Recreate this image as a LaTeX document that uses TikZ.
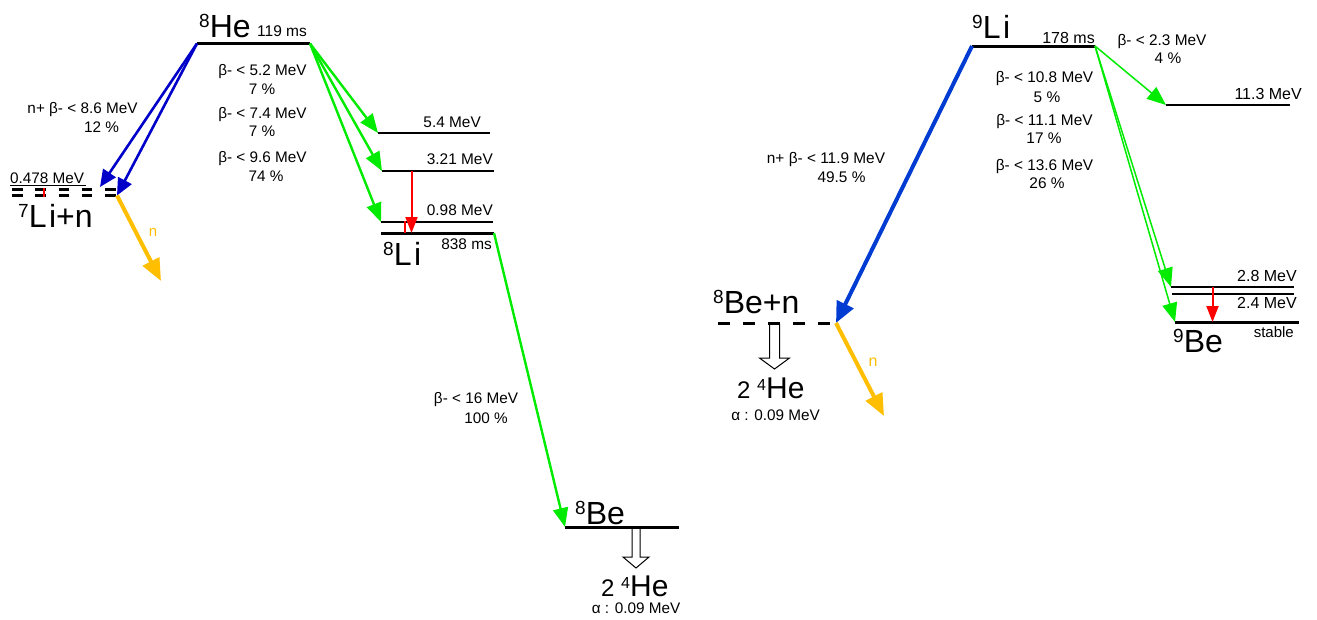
\documentclass[tikz,border=0pt]{standalone}
\usepackage{fontspec}
\setmainfont{Liberation Sans}
\usetikzlibrary{arrows.meta}
\definecolor{grn}{RGB}{0,235,0}
\definecolor{bluea}{RGB}{0,0,200}
\definecolor{blueb}{RGB}{0,60,210}
\definecolor{orng}{RGB}{255,190,0}
\definecolor{redd}{RGB}{255,0,0}
\newcommand\smf{\fontsize{15.3}{17}\selectfont}
\newcommand\smg{\fontsize{15.4}{17}\selectfont}
\newcommand\lvf{\fontsize{16}{18}\selectfont}
\newcommand\bigf{\fontsize{32}{34}\selectfont}
\newcommand\nuc[2]{\bigf\raisebox{9.3pt}{\fontsize{19}{19}\selectfont #1}#2}
\newcommand\Li{L\kern2.5pt i}
\newcommand\twohe{{\fontsize{24}{26}\selectfont 2 }\raisebox{8pt}{\fontsize{16}{16}\selectfont 4}{\fontsize{30}{32}\selectfont He}}
\tikzset{
  txt/.style={inner sep=0pt, anchor=base, text=black},
  lvl/.style={line width=2pt, line cap=butt},
  glvl/.style={line width=3pt, line cap=butt},
  dline/.style={line width=2.6pt, dash pattern=on 10.5pt off 12.8pt},
  gar/.style={grn, line width=2.4pt, -{Triangle[length=19pt,width=15pt]}},
  gthin/.style={grn, line width=1.5pt, -{Triangle[length=19pt,width=15pt]}},
  bar/.style={bluea, line width=2.6pt, -{Triangle[length=17pt,width=15pt]}},
  bbar/.style={blueb, line width=4pt, -{Triangle[length=21pt,width=18pt]}},
  oar/.style={orng, line width=4pt, -{Triangle[length=22pt,width=18pt]}},
  rar/.style={redd, line width=2pt, -{Triangle[length=16pt,width=12pt]}},
  hollow/.style={draw=black, line width=1pt, fill=white},
}
\begin{document}
\begin{tikzpicture}[x=1pt,y=-1pt]
\useasboundingbox (0,0) rectangle (1317,619);
% ---------- coordinates ----------
\coordinate (he8a) at (197,43.5);  \coordinate (he8b) at (310,43.5);
\coordinate (li8s1a) at (378,133); \coordinate (li8s1b) at (490,133);
\coordinate (li8s2a) at (382,171); \coordinate (li8s2b) at (494,171);
\coordinate (li8s3a) at (381,222); \coordinate (li8s3b) at (493,222);
\coordinate (li8a) at (381,233);   \coordinate (li8b) at (494,233);
\coordinate (li8r1) at (411.5,171); \coordinate (li8r2) at (411.5,233);
\coordinate (li7ua) at (12,189.5); \coordinate (li7ub) at (117,189.5);
\coordinate (li7la) at (12,195.5); \coordinate (li7lb) at (117,195.5);
\coordinate (li7t1) at (100,187);  \coordinate (li7t2) at (117,195.5);
\coordinate (n1) at (161,281);
\coordinate (be8a) at (565,527);   \coordinate (be8b) at (679,527);
\coordinate (li9a) at (972,46);    \coordinate (li9b) at (1095,46);
\coordinate (be8na) at (718,323);  \coordinate (be8nb) at (836,323);
\coordinate (n2) at (884,416);
\coordinate (be9s1a) at (1166,105); \coordinate (be9s1b) at (1290,105);
\coordinate (be9s2a) at (1171,287); \coordinate (be9s2b) at (1294,287);
\coordinate (be9s3a) at (1172,294); \coordinate (be9s3b) at (1294,294);
\coordinate (be9a) at (1175,322);  \coordinate (be9b) at (1299,322);
\coordinate (be9r1) at (1212.5,287); \coordinate (be9r2) at (1212.5,322);
% ---------- hollow alpha arrows ----------
\draw[hollow] (632,528) -- (640,528) -- (640,557) -- (649,557) -- (636,568) -- (623,557) -- (632,557) -- cycle;
\draw[hollow] (769.5,324) -- (779.5,324) -- (779.5,358) -- (789.5,358) -- (774.5,369) -- (759.5,358) -- (769.5,358) -- cycle;
% ---------- levels ----------
\draw[glvl] (he8a) -- (he8b);
\draw[lvl] (li8s1a) -- (li8s1b);
\draw[lvl] (li8s2a) -- (li8s2b);
\draw[lvl] (li8s3a) -- (li8s3b);
\draw[glvl] (li8a) -- (li8b);
\draw[glvl] (be8a) -- (be8b);
\draw[glvl] (li9a) -- (li9b);
\draw[lvl] (be9s1a) -- (be9s1b);
\draw[lvl] (be9s2a) -- (be9s2b);
\draw[lvl] (be9s3a) -- (be9s3b);
\draw[glvl] (be9a) -- (be9b);
\draw[dline] (li7ua) -- (li7ub);
\draw[dline] (li7la) -- (li7lb);
\draw[line width=0.8pt] (10,185) -- (86,185);
\draw[line width=3pt, dash pattern=on 12pt off 13pt] (be8na) -- (be8nb);
% red ticks
\draw[redd, line width=1.6pt] (44,188) -- (44,197);
\draw[redd, line width=1.6pt] (405,221) -- (405,233);
% ---------- transitions ----------
\draw[bar] (he8a) -- (li7t1);
\draw[bar] (he8a) -- (li7t2);
\draw[oar] (li7t2) -- (n1);
\draw[gar] (he8b) -- (li8s1a);
\draw[gar] (he8b) -- (li8s2a);
\draw[gar] (he8b) -- (li8s3a);
\draw[rar] (li8r1) -- (li8r2);
\draw[gar] (li8b) -- (be8a);
\draw[bbar] (li9a) -- (be8nb);
\draw[oar] (be8nb) -- (n2);
\draw[gthin] (li9b) -- (be9s1a);
\draw[gthin] (li9b) -- (be9s2a);
\draw[gthin] (li9b) -- (be9a);
\draw[rar] (be9r1) -- (be9r2);
% ---------- labels ----------
\node[txt, anchor=base west] (tHe8) at (199,37) {\nuc{8}{He}};
\node[txt, anchor=base west] (tHe8t) at (257,36) {\fontsize{15.5}{17}\selectfont 119 ms};
\node[txt] (b1) at (262.5,75) {\smf β- < 5.2 MeV};
\node[txt] (b1p) at (262,94) {\smf 7 \%};
\node[txt] (b2) at (262.5,118) {\smf β- < 7.4 MeV};
\node[txt] (b2p) at (262,136) {\smf 7 \%};
\node[txt] (b3) at (262.5,162) {\smf β- < 9.6 MeV};
\node[txt] (b3p) at (266,181) {\smf 74 \%};
\node[txt] (nb1) at (82.5,113) {\smf n+ β- < 8.6 MeV};
\node[txt] (nb1p) at (101.5,132) {\smf 12 \%};
\node[txt, anchor=base west] (e478) at (10,183) {\fontsize{15.3}{16}\selectfont 0.478 MeV};
\node[txt, anchor=base west] (tLi7) at (18,227) {\nuc{7}{\Li+n}};
\node[txt, text=orng] (tn1) at (153,236) {\fontsize{15}{16}\selectfont n};
\node[txt, anchor=base east] (e54) at (481,127) {\smg 5.4 MeV};
\node[txt, anchor=base east] (e321) at (493,164) {\smg 3.21 MeV};
\node[txt, anchor=base east] (e098) at (493,215) {\smg 0.98 MeV};
\node[txt, anchor=base east] (tLi8t) at (492,249) {\smg 838 ms};
\node[txt, anchor=base west] (tLi8) at (383,265) {\nuc{8}{\Li}};
\node[txt] (b16) at (476,403) {\smf β- < 16 MeV};
\node[txt] (b16p) at (486,423) {\smf 100 \%};
\node[txt, anchor=base west] (tBe8) at (575,524) {\nuc{8}{Be}};
\node[txt, anchor=base west] (tHe4a) at (601,596) {\twohe};
\node[txt] (ta1) at (636,613) {\smf α : 0.09 MeV};
\node[txt, anchor=base west] (tLi9) at (972,38) {\nuc{9}{\Li}};
\node[txt, anchor=base east] (tLi9t) at (1095,43) {\fontsize{16}{18}\selectfont 178 ms};
\node[txt] (c1) at (1044.5,82) {\smg β- < 10.8 MeV};
\node[txt] (c1p) at (1047,102) {\smg 5 \%};
\node[txt] (c2) at (1044.5,125) {\smg β- < 11.1 MeV};
\node[txt] (c2p) at (1044,143) {\smg 17 \%};
\node[txt] (c3) at (1044.5,170) {\smg β- < 13.6 MeV};
\node[txt] (c3p) at (1047,188) {\smg 26 \%};
\node[txt] (nb2) at (826,163) {\smg n+ β- < 11.9 MeV};
\node[txt] (nb2p) at (841.5,182) {\smg 49.5 \%};
\node[txt] (c4) at (1162,45) {\smg β- < 2.3 MeV};
\node[txt] (c4p) at (1168,63) {\smg 4 \%};
\node[txt, anchor=base east] (e113) at (1302,99) {\lvf 11.3 MeV};
\node[txt, anchor=base east] (e28) at (1297,281) {\lvf 2.8 MeV};
\node[txt, anchor=base east] (e24) at (1297,308) {\lvf 2.4 MeV};
\node[txt, anchor=base east] (tst) at (1294,337) {\fontsize{15}{16}\selectfont stable};
\node[txt, anchor=base west] (tBe9) at (1173,352) {\nuc{9}{Be}};
\node[txt, anchor=base west] (tBe8n) at (713,313) {\nuc{8}{Be+n}};
\node[txt, anchor=base west] (tHe4b) at (737,398) {\twohe};
\node[txt] (ta2) at (775.5,420) {\smf α : 0.09 MeV};
\node[txt, text=orng] (tn2) at (873,366) {\fontsize{16}{17}\selectfont n};
\end{tikzpicture}
\end{document}
